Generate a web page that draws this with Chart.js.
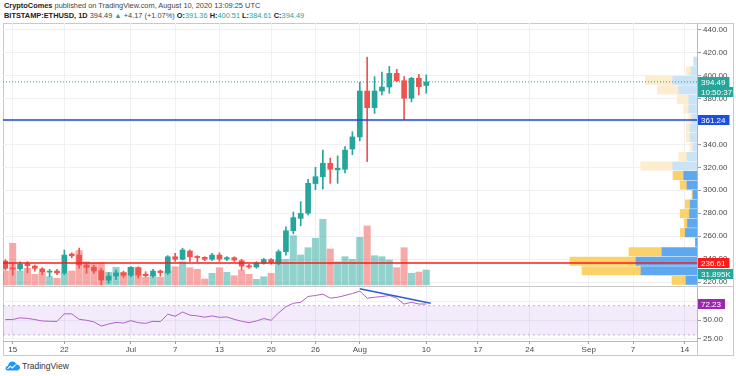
<!DOCTYPE html>
<html>
<head>
<meta charset="utf-8">
<script src="https://cdn.jsdelivr.net/npm/chart.js@4.4.0/dist/chart.umd.min.js"></script>
<style>
  body { margin: 0; background: #fff; }
  #wrap { position: relative; width: 736px; height: 376px; overflow: hidden; font-family: 'Liberation Sans', Arial, sans-serif; color: #131722; }
  canvas { position: absolute; }
  .hdr { position: absolute; left: 4px; font-size: 7.4px; white-space: nowrap; color: #444; }
  .hdr b { color: #222; }
  .v { color: #26a69a; }
  .ln { position: absolute; background: #c9c9c9; }
  #foot { position: absolute; left: 5px; top: 360px; font-size: 8.5px; color: #333; display: flex; align-items: center; gap: 2px; }
</style>
</head>
<body>
<div id="wrap">
  <div class="hdr" id="h1" style="top:1px"></div>
  <div class="hdr" id="h2" style="top:11px"></div>
  <div class="ln" style="left:3px;top:23px;width:730px;height:1px"></div>
  <div class="ln" style="left:3px;top:23px;width:1px;height:332px"></div>
  <div class="ln" style="left:733px;top:23px;width:1px;height:332px"></div>
  <div class="ln" style="left:3px;top:355px;width:731px;height:1px"></div>
  <div class="ln" style="left:3px;top:286px;width:730px;height:1px"></div>
  <div class="ln" style="left:697px;top:340px;width:1px;height:15px"></div>
  <canvas id="price" width="730" height="263" style="left:3px;top:23px;z-index:1"></canvas>
  <canvas id="vp" width="694" height="263" style="left:3px;top:23px;z-index:2"></canvas>
  <canvas id="rsi" width="730" height="69" style="left:3px;top:287px;z-index:1"></canvas>
  <div id="foot">
    <svg width="15" height="11" viewBox="0 0 15 11">
      <path d="M3 10.5 C0.6 10.5 0 8.6 0.8 7.3 C1.3 6.4 2.2 6 3 6.1 C3.2 3.5 5 1.6 7.4 1.6 C9.4 1.6 10.8 2.9 11.4 4.4 C13.6 4.4 15 6 15 7.6 C15 9.3 13.7 10.5 12 10.5 Z" fill="#2196f3"/>
      <path d="M2.5 8.8 L5.2 6.2 L7.2 8 L10.8 4.6" stroke="#fff" stroke-width="1.1" fill="none"/>
    </svg>
    <span>TradingView</span>
  </div>
</div>
<script>
// ETH/USD daily candles, Jun 14 - Aug 10 2020
const dates = [
  '2020-06-14','2020-06-15','2020-06-16','2020-06-17','2020-06-18','2020-06-19','2020-06-20','2020-06-21','2020-06-22','2020-06-23',
  '2020-06-24','2020-06-25','2020-06-26','2020-06-27','2020-06-28','2020-06-29','2020-06-30',
  '2020-07-01','2020-07-02','2020-07-03','2020-07-04','2020-07-05','2020-07-06','2020-07-07','2020-07-08','2020-07-09','2020-07-10',
  '2020-07-11','2020-07-12','2020-07-13','2020-07-14','2020-07-15','2020-07-16','2020-07-17','2020-07-18','2020-07-19','2020-07-20',
  '2020-07-21','2020-07-22','2020-07-23','2020-07-24','2020-07-25','2020-07-26','2020-07-27','2020-07-28','2020-07-29','2020-07-30','2020-07-31',
  '2020-08-01','2020-08-02','2020-08-03','2020-08-04','2020-08-05','2020-08-06','2020-08-07','2020-08-08','2020-08-09','2020-08-10'
];
const opens = [
  238.3, 231.9, 231.4, 235.9, 233.9, 231.4, 228.6, 229.6, 227.9, 244.4, 243.5, 234.8, 232.8, 229.9, 221.5, 225.3, 228.0,
  225.9, 232.5, 226.8, 225.5, 229.6, 228.0, 242.0, 239.8, 247.0, 242.3, 241.5, 239.8, 243.5, 240.0, 241.2, 238.6, 234.2, 233.1, 236.3, 239.6,
  236.8, 246.4, 264.7, 275.5, 280.0, 305.8, 311.8, 323.5, 317.8, 318.3, 336.0,
  346.5, 386.5, 372.0, 386.5, 390.0, 401.9, 395.5, 380.2, 397.6, 391.36
];
const highs = [
  239.5, 236.0, 237.5, 237.7, 234.8, 232.5, 231.0, 231.0, 247.9, 245.5, 249.5, 236.0, 234.5, 232.0, 228.0, 230.5, 229.5,
  233.5, 233.3, 229.0, 231.0, 230.5, 243.0, 245.0, 249.5, 248.0, 243.0, 242.0, 245.0, 245.5, 242.2, 242.0, 239.8, 235.4, 237.7, 240.5, 240.5,
  248.0, 268.0, 281.0, 290.0, 309.5, 320.0, 335.0, 328.0, 330.0, 338.0, 351.0,
  394.0, 416.0, 399.0, 403.0, 408.0, 405.4, 399.0, 398.5, 401.0, 400.51
];
const lows = [
  230.5, 226.0, 230.0, 228.0, 229.5, 226.5, 224.6, 226.5, 226.5, 241.0, 232.0, 227.5, 227.5, 217.5, 219.0, 222.0, 224.0,
  224.5, 223.5, 224.6, 224.0, 225.0, 226.5, 238.0, 239.2, 238.0, 237.7, 238.6, 238.5, 238.0, 238.5, 238.0, 230.5, 231.9, 232.0, 235.5, 235.5,
  235.0, 243.5, 262.0, 269.0, 278.5, 300.5, 301.0, 306.0, 306.0, 315.0, 331.0,
  343.0, 325.0, 367.0, 383.0, 384.5, 394.6, 361.5, 377.0, 383.0, 384.61
];
const closes = [
  231.9, 231.4, 235.4, 234.2, 231.9, 229.0, 229.2, 227.9, 243.5, 242.8, 234.8, 232.8, 229.6, 221.7, 225.2, 228.0, 225.9,
  232.8, 226.0, 225.5, 229.6, 228.2, 242.0, 239.8, 247.9, 242.0, 241.3, 239.8, 243.5, 240.0, 241.2, 239.2, 233.9, 233.1, 236.3, 239.6, 237.0,
  246.4, 264.7, 276.1, 279.8, 306.0, 311.8, 323.5, 318.3, 319.2, 335.0, 346.5,
  386.5, 372.0, 386.5, 390.0, 401.9, 395.5, 380.2, 397.6, 390.32, 394.49
];
// volume in thousands of ETH
const volumes = [
  29.8, 88.7, 29.8, 35.5, 22.7, 27.0, 17.6, 14.2, 24.9, 29.8, 73.3, 49.5, 46.1, 47.4, 27.0, 37.6, 27.0,
  37.6, 36.8, 16.4, 19.8, 16.4, 29.8, 38.9, 49.5, 36.8, 33.4, 12.8, 24.9, 36.8, 27.0, 19.8, 31.9, 22.7, 12.1, 17.6, 24.9,
  54.6, 54.6, 104.8, 63.8, 79.3, 99.3, 139.7, 76.5, 49.5, 60.2, 54.6,
  101.4, 125.4, 62.3, 60.2, 53.2, 36.8, 79.3, 24.9, 27.6, 31.895
];
const rsi = [
  51.0, 51.0, 53.3, 52.5, 51.0, 49.0, 48.6, 48.4, 58.8, 58.8, 51.3, 50.0, 47.7, 42.1, 44.9, 47.1, 46.2,
  49.5, 46.7, 45.8, 48.6, 48.1, 58.3, 55.5, 61.3, 57.0, 56.0, 54.2, 56.0, 54.0, 54.5, 51.3, 48.6, 46.7, 49.0, 52.3, 50.0,
  60.0, 68.6, 73.2, 74.6, 82.5, 83.9, 85.7, 80.2, 81.5, 83.9, 86.6,
  89.9, 80.2, 81.5, 82.5, 83.9, 80.2, 72.2, 74.6, 72.2, 72.23
];

// volume profile (visible range), 24 rows
const vpLevels = [221.5, 229.8, 238.1, 246.4, 254.7, 263.0, 271.3, 279.6, 287.9, 296.2, 304.5, 312.8,
                  321.1, 329.4, 337.7, 346.0, 354.3, 362.6, 370.9, 379.2, 387.5, 395.8, 404.1, 412.4];
const vpUp   = [44, 224, 244, 140, 6, 47, 38, 30, 27, 16, 40, 53, 97, 40, 16, 27, 27, 20, 33, 33, 73, 97, 24, 13];
const vpDown = [56, 236, 264, 132, 0, 20, 13, 37, 20, 4, 27, 43, 128, 33, 13, 16, 16, 13, 20, 47, 85, 109, 19, 0];
const valueAreaHigh = 317;

// horizontal levels drawn on the chart
const blueLevel = 361.24;
const redLevel = 236.61;
const countdown = '10:50:37';

// divergence line on RSI
const trendX = ['2020-08-01', '2020-08-10'];
const trendY = [93.0, 73.4];
const trendExtend = 0.6;

// time axis
const tickDates = ['2020-06-15','2020-06-22','2020-07-01','2020-07-07','2020-07-13','2020-07-20','2020-07-26',
                   '2020-08-01','2020-08-10','2020-08-17','2020-08-24','2020-09-01','2020-09-07','2020-09-14'];
const tickLabels = ['15','22','Jul','7','13','20','26','Aug','10','17','24','Sep','7','14'];
const priceTicks = [220, 240, 260, 280, 300, 320, 340, 360, 380, 400, 420, 440];
const rsiTicks = [25, 50, 75];

// visible ranges
const viewStart = -1.31, viewEnd = 92.66;
const priceMin = 216.52, priceMax = 445.81;
const volMin = -2.13, volMax = 557;
const rsiMin = 21.64, rsiMax = 95.5;
const vpMax = 2776;

const upColor = '#26a69a';
const downColor = '#ef5350';
const gridColor = '#eef0f4';
const axisFont = { family: "'Liberation Sans', Arial, sans-serif", size: 8 };

const dayNum = s => (Date.parse(s) - Date.parse('2020-06-15')) / 864e5;
const xs = dates.map(dayNum);
const isUp = i => closes[i] >= opens[i];
const last = closes.length - 1;

// header
const chg = closes[last] - closes[last - 1];
const pct = chg / closes[last - 1] * 100;
document.getElementById('h1').innerHTML = '<b>CryptoComes</b> published on TradingView.com, August 10, 2020 13:09:25 UTC';
document.getElementById('h2').innerHTML =
  `<b>BITSTAMP:ETHUSD, 1D</b> ${closes[last].toFixed(2)} <span class="v">&#9650;</span> +${chg.toFixed(2)} (+${pct.toFixed(2)}%) ` +
  `<b>O:</b><span class="v">${opens[last].toFixed(2)}</span> <b>H:</b><span class="v">${highs[last].toFixed(2)}</span> ` +
  `<b>L:</b><span class="v">${lows[last].toFixed(2)}</span> <b>C:</b><span class="v">${closes[last].toFixed(2)}</span>`;

const timeAxis = (showLabels) => ({
  type: 'linear', min: viewStart, max: viewEnd, offset: false,
  afterBuildTicks: ax => { ax.ticks = tickDates.map(d => ({ value: dayNum(d) })); },
  grid: { color: gridColor, offset: false, drawTicks: showLabels, tickLength: 3, tickColor: '#9a9a9a' },
  border: { display: showLabels, color: '#b9b9b9' },
  ticks: { display: showLabels, autoSkip: false, maxRotation: 0, padding: 1, color: '#4a4a4a', font: axisFont,
           callback: (v, i) => tickLabels[i] },
  afterFit: ax => { ax.height = showLabels ? 15 : 0; ax.paddingLeft = 0; ax.paddingRight = 0; }
});

const rightAxis = (min, max, ticks) => ({
  position: 'right', min, max,
  afterBuildTicks: ax => { ax.ticks = ticks.map(v => ({ value: v })); },
  grid: { color: gridColor, tickLength: 4, tickColor: '#9a9a9a' },
  border: { color: '#b9b9b9' },
  ticks: { padding: 2, color: '#4a4a4a', font: axisFont, callback: v => v.toFixed(2) },
  afterFit: ax => { ax.width = 36; ax.paddingTop = 0; ax.paddingBottom = 0; }
});

function drawTag(ctx, left, yc, text, bg) {
  ctx.save();
  ctx.font = "8px 'Liberation Sans', Arial, sans-serif";
  const w = ctx.measureText(text).width + 7;
  ctx.fillStyle = bg;
  ctx.fillRect(left + 1, Math.round(yc - 5), w, 10);
  ctx.fillStyle = '#fff';
  ctx.textBaseline = 'middle';
  ctx.fillText(text, left + 4, Math.round(yc) + 0.5);
  ctx.restore();
  return Math.round(yc) + 5;
}

const priceTags = {
  id: 'priceTags',
  afterDraw(chart) {
    const { ctx, scales: { y, vol } } = chart;
    const lastY = y.getPixelForValue(closes[last]);
    drawTag(ctx, y.left, lastY, closes[last].toFixed(2), upColor);
    drawTag(ctx, y.left, lastY + 10.5, countdown, upColor);
    drawTag(ctx, y.left, y.getPixelForValue(blueLevel), blueLevel.toFixed(2), '#1e4fd8');
    const redBottom = drawTag(ctx, y.left, y.getPixelForValue(redLevel), redLevel.toFixed(2), '#ff1a1a');
    const vy = Math.max(vol.getPixelForValue(volumes[last]), redBottom + 6);
    drawTag(ctx, y.left, vy, volumes[last].toFixed(3) + 'K', upColor);
  }
};

const rsiTag = {
  id: 'rsiTag',
  afterDraw(chart) {
    const { ctx, scales: { y } } = chart;
    drawTag(ctx, y.left, y.getPixelForValue(rsi[last]), rsi[last].toFixed(2), '#9c27b0');
  }
};

const baseOpts = {
  responsive: false, animation: false, events: [],
  layout: { padding: 0 },
  plugins: { legend: { display: false }, tooltip: { enabled: false } }
};

// price pane: volume, wicks, bodies
new Chart(document.getElementById('price'), {
  type: 'bar',
  data: {
    datasets: [
      {
        yAxisID: 'vol', order: 3, grouped: false, barThickness: 6.4,
        data: xs.map((x, i) => ({ x, y: volumes[i] })),
        backgroundColor: xs.map((x, i) => isUp(i) ? 'rgba(38,166,154,0.5)' : 'rgba(239,83,80,0.5)')
      },
      {
        yAxisID: 'y', order: 2, grouped: false, barThickness: 1,
        data: xs.map((x, i) => ({ x, y: [lows[i], highs[i]] })),
        backgroundColor: xs.map((x, i) => isUp(i) ? upColor : downColor)
      },
      {
        yAxisID: 'y', order: 1, grouped: false, barThickness: 5, minBarLength: 1,
        data: xs.map((x, i) => ({ x, y: [opens[i], closes[i]] })),
        backgroundColor: xs.map((x, i) => isUp(i) ? upColor : downColor)
      }
    ]
  },
  options: {
    ...baseOpts,
    scales: {
      x: timeAxis(false),
      y: rightAxis(priceMin, priceMax, priceTicks),
      vol: { position: 'left', display: false, min: volMin, max: volMax, beginAtZero: false }
    }
  },
  plugins: [priceTags]
});

// volume profile + horizontal levels, drawn above the price pane
const levelLine = (v, color, width, dash) => ({
  type: 'line', data: [{ x: 0, y: v }, { x: vpMax, y: v }],
  borderColor: color, borderWidth: width, borderDash: dash, pointRadius: 0
});
new Chart(document.getElementById('vp'), {
  type: 'bar',
  data: {
    datasets: [
      levelLine(closes[last], upColor, 1, [1, 2]),
      levelLine(blueLevel, '#1f48c9', 1.6, []),
      levelLine(redLevel, '#ff1a1a', 1.6, []),
      {
        indexAxis: 'y', stack: 'vp', grouped: false, barThickness: 8.4,
        data: vpLevels.map((p, i) => ({ x: vpUp[i], y: p })),
        backgroundColor: vpLevels.map(p => p < valueAreaHigh ? '#5da8ee' : '#cbe3f7')
      },
      {
        indexAxis: 'y', stack: 'vp', grouped: false, barThickness: 8.4,
        data: vpLevels.map((p, i) => ({ x: vpDown[i], y: p })),
        backgroundColor: vpLevels.map(p => p < valueAreaHigh ? '#fbd26a' : '#fdecce')
      }
    ]
  },
  options: {
    ...baseOpts,
    scales: {
      x: { type: 'linear', display: false, min: 0, max: vpMax, reverse: true, offset: false, grid: { offset: false } },
      y: { type: 'linear', display: false, min: priceMin, max: priceMax, beginAtZero: false, offset: false, grid: { offset: false } }
    }
  }
});

// RSI pane with time axis
new Chart(document.getElementById('rsi'), {
  type: 'line',
  data: {
    datasets: [
      { data: [{ x: viewStart, y: 70 }, { x: viewEnd, y: 70 }], borderColor: '#bdb5c6', borderWidth: 1, borderDash: [2, 3],
        pointRadius: 0, fill: '+1', backgroundColor: 'rgba(170,110,230,0.14)', order: 3 },
      { data: [{ x: viewStart, y: 30 }, { x: viewEnd, y: 30 }], borderColor: '#bdb5c6', borderWidth: 1, borderDash: [2, 3],
        pointRadius: 0, fill: false, order: 3 },
      { data: xs.map((x, i) => ({ x, y: rsi[i] })), borderColor: '#b35fc9', borderWidth: 1, pointRadius: 0, order: 1 },
      { data: [{ x: dayNum(trendX[0]), y: trendY[0] }, { x: dayNum(trendX[1]) + trendExtend, y: trendY[1] }],
        borderColor: '#2d5bd6', borderWidth: 1.5, pointRadius: 0, order: 0 }
    ]
  },
  options: {
    ...baseOpts,
    scales: {
      x: timeAxis(true),
      y: rightAxis(rsiMin, rsiMax, rsiTicks)
    }
  },
  plugins: [rsiTag]
});
</script>
</body>
</html>
